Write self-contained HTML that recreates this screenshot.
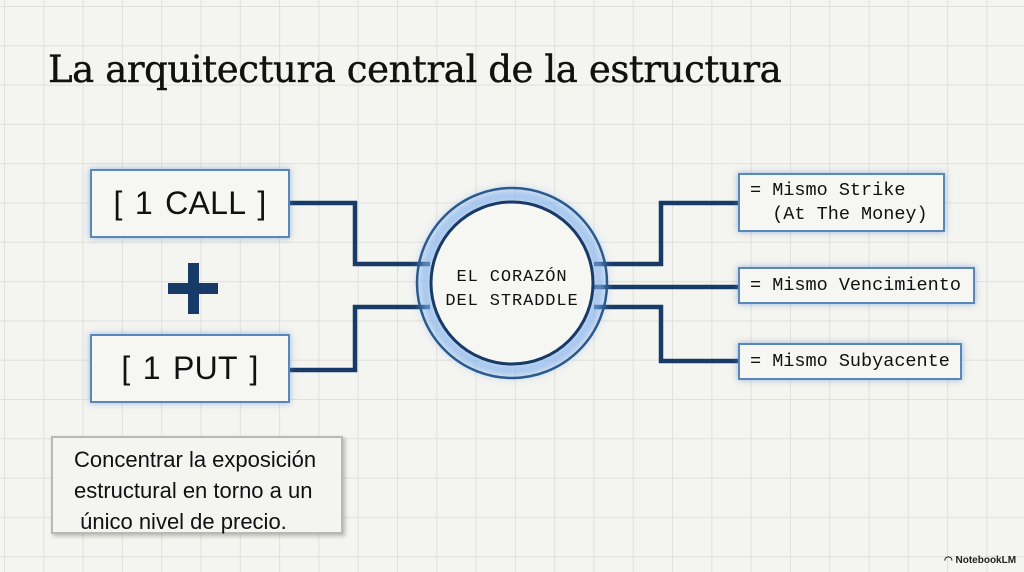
<!DOCTYPE html>
<html><head><meta charset="utf-8"><style>
html,body{margin:0;padding:0}
body{width:1024px;height:572px;overflow:hidden;position:relative;background-color:#f4f4f0;
background-image:linear-gradient(#e0e0dc 1px,transparent 1px),linear-gradient(90deg,#e0e0dc 1px,transparent 1px);
background-size:39.3px 39.3px;background-position:4px 6px;font-family:"Liberation Sans",sans-serif}
.t{position:absolute;left:48px;top:48px;font-family:"DejaVu Serif","Liberation Serif",serif;font-size:37px;color:#111;letter-spacing:-0.4px;white-space:nowrap;-webkit-text-stroke:0.4px #111}
.box{position:absolute;background:#f6f6f3;border:2px solid #5b86b8;box-shadow:0 0 6px rgba(90,140,210,.6);box-sizing:border-box;font-family:"Liberation Mono",monospace;color:#111}
.big{font-family:"Liberation Sans",sans-serif;font-size:32px;display:flex;align-items:center;justify-content:center;word-spacing:3px;letter-spacing:0.3px}
.sm{font-size:18.5px;letter-spacing:0;padding-left:10px;display:flex;align-items:center;white-space:pre}
.note{position:absolute;left:51px;top:436px;width:292px;height:98px;background:#f4f4f1;border:2px solid #b8b8b8;box-shadow:2px 2px 4px rgba(0,0,0,.25);box-sizing:border-box;font-size:22px;line-height:31px;padding:6px 0 0 21px;color:#111;white-space:nowrap}
</style></head><body>
<div class="t">La arquitectura central de la estructura</div>
<svg width="1024" height="572" style="position:absolute;left:0;top:0">
<defs><filter id="g" x="-30%" y="-30%" width="160%" height="160%"><feGaussianBlur stdDeviation="5"/></filter></defs>
<g fill="none" stroke="#173a66" stroke-width="4.5">
<path d="M290 203H355V264H430"/>
<path d="M290 370H355V307H430"/>
<path d="M594 264H661V203H740"/>
<path d="M594 287H740"/>
<path d="M594 307H661V361H740"/>
</g>
<rect x="168" y="283" width="50" height="11" fill="#173a66"/>
<rect x="188" y="263" width="11" height="51" fill="#173a66"/>
<circle cx="512" cy="283" r="87" fill="none" stroke="#7fb0ee" stroke-width="12" opacity="0.8" filter="url(#g)"/>
<circle cx="512" cy="283" r="95" fill="none" stroke="#2a5a8e" stroke-width="2.5"/>
<circle cx="512" cy="283" r="81" fill="#f6f6f3" stroke="#173a66" stroke-width="3"/>
<text x="512" y="281" text-anchor="middle" font-family="Liberation Mono,monospace" font-size="17" letter-spacing="0.9" fill="#111">EL CORAZÓN</text>
<text x="512" y="305" text-anchor="middle" font-family="Liberation Mono,monospace" font-size="17" letter-spacing="0.9" fill="#111">DEL STRADDLE</text>
</svg>
<div class="box big" style="left:90px;top:169px;width:200px;height:69px">[ 1 CALL ]</div>
<div class="box big" style="left:90px;top:334px;width:200px;height:69px">[ 1 PUT ]</div>
<div class="box sm" style="left:738px;top:173px;width:207px;height:59px;line-height:24px">= Mismo Strike
  (At The Money)</div>
<div class="box sm" style="left:738px;top:267px;width:237px;height:37px">= Mismo Vencimiento</div>
<div class="box sm" style="left:738px;top:343px;width:224px;height:37px">= Mismo Subyacente</div>
<div class="note">Concentrar la exposición<br>estructural en torno a un<br>&nbsp;único nivel de precio.</div>
<div style="position:absolute;left:944px;top:555px;font-size:10px;color:#222;font-weight:bold;white-space:nowrap">◠ NotebookLM</div>
</body></html>
